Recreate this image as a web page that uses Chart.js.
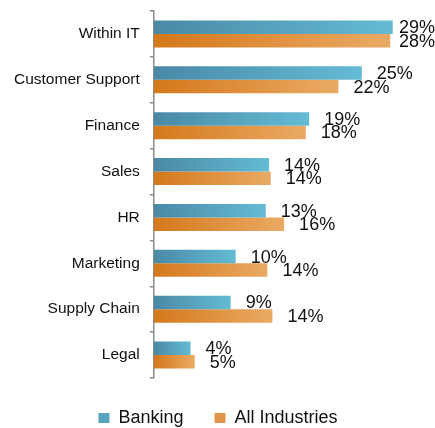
<!DOCTYPE html>
<html>
<head>
<meta charset="utf-8">
<script src="https://cdn.jsdelivr.net/npm/chart.js@4"></script>
<style>
  html, body { margin: 0; padding: 0; background: #fff; }
  #wrap { width: 435px; height: 428px; }
</style>
</head>
<body>
<div id="wrap"><canvas id="chart" width="435" height="428"></canvas></div>
<script>
// Share of roles, banking vs all industries (%)
const categories = ['Within IT', 'Customer Support', 'Finance', 'Sales', 'HR', 'Marketing', 'Supply Chain', 'Legal'];
const banking = [28.6, 24.9, 18.6, 13.8, 13.4, 9.8, 9.2, 4.4];
const allIndustries = [28.3, 22.1, 18.2, 14.0, 15.6, 13.6, 14.2, 4.9];

const FONT = "'Liberation Sans', Arial, sans-serif";
const TEXT = '#111';
const AXIS_GREY = '#8c8c8c';

// horizontal gradient that spans each bar from its base to its end
const barGradient = (from, to) => (ctx) => {
  const chart = ctx.chart;
  if (!chart.chartArea || ctx.type !== 'data') return from;
  const xs = chart.scales.x;
  const x0 = xs.getPixelForValue(0);
  const x1 = xs.getPixelForValue(ctx.raw);
  const g = chart.ctx.createLinearGradient(x0, 0, Math.max(x1, x0 + 1), 0);
  g.addColorStop(0, from);
  g.addColorStop(1, to);
  return g;
};

const legendColors = ['#58a5bf', '#e0964a'];

// value labels to the right of each bar, pulled in if they'd run off the canvas
const valueLabels = {
  id: 'valueLabels',
  afterDatasetsDraw(chart) {
    const c = chart.ctx;
    c.save();
    c.font = '18px ' + FONT;
    c.fillStyle = TEXT;
    c.textAlign = 'left';
    c.textBaseline = 'middle';
    chart.data.datasets.forEach((ds, di) => {
      chart.getDatasetMeta(di).data.forEach((bar, i) => {
        const txt = Math.round(ds.data[i]) + '%';
        const w = c.measureText(txt).width;
        const x = Math.min(bar.x + 15, chart.width - w);
        c.fillText(txt, x, bar.y + 1);
      });
    });
    c.restore();
  }
};

new Chart(document.getElementById('chart'), {
  type: 'bar',
  data: {
    labels: categories,
    datasets: [
      { label: 'Banking', data: banking, backgroundColor: barGradient('#4a89a5', '#64bbd4'), borderWidth: 0 },
      { label: 'All Industries', data: allIndustries, backgroundColor: barGradient('#d4781b', '#eaaa64'), borderWidth: 0 }
    ]
  },
  options: {
    indexAxis: 'y',
    responsive: false,
    animation: false,
    categoryPercentage: 0.59,
    barPercentage: 1,
    layout: { padding: { top: 11, left: 4, right: 3, bottom: 0 } },
    plugins: {
      tooltip: { enabled: false },
      legend: {
        position: 'bottom',
        maxHeight: 50,
        labels: {
          color: TEXT,
          font: { family: FONT, size: 18 },
          boxWidth: 11,
          boxHeight: 10,
          padding: 31,
          generateLabels: (chart) => chart.data.datasets.map((ds, i) => ({
            text: ds.label,
            fillStyle: legendColors[i],
            strokeStyle: legendColors[i],
            lineWidth: 0,
            fontColor: TEXT,
            hidden: false,
            datasetIndex: i
          }))
        }
      }
    },
    scales: {
      x: { display: false, min: 0, max: 33.3 },
      y: {
        grid: { drawOnChartArea: false, drawTicks: true, tickLength: 4, color: AXIS_GREY, lineWidth: 1.5, offset: true },
        border: { display: true, color: AXIS_GREY, width: 1.5 },
        // tiny lineHeight keeps the first/last label from padding the plot area
        ticks: { color: TEXT, font: { family: FONT, size: 15.5, lineHeight: 0.1 }, padding: 10 }
      }
    }
  },
  plugins: [valueLabels]
});
</script>
</body>
</html>
